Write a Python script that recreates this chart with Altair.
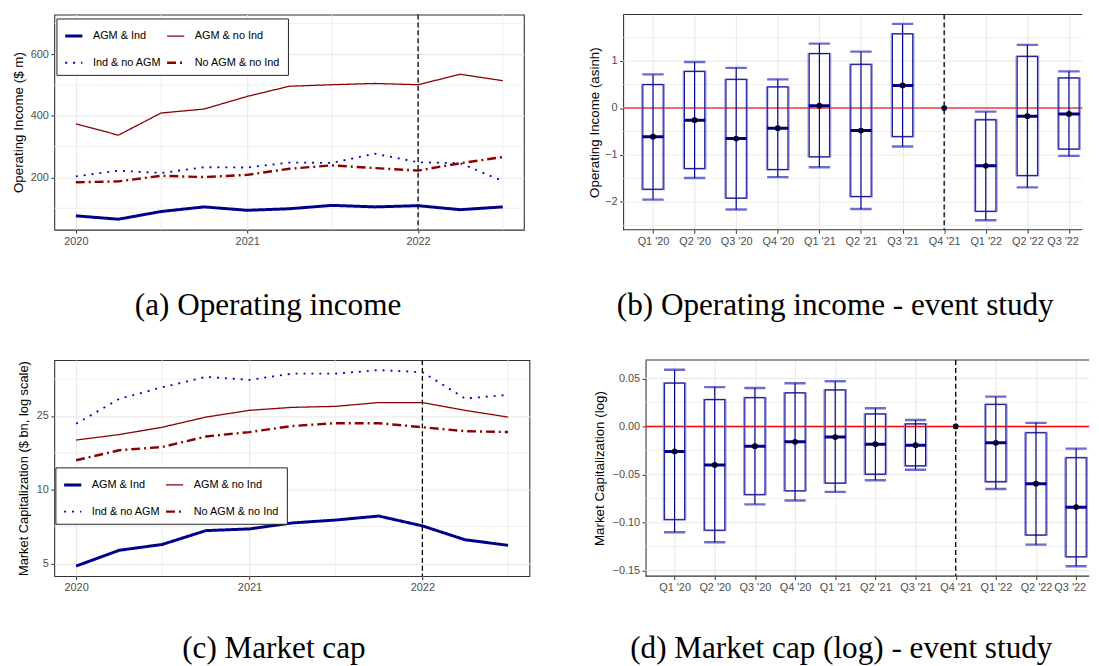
import altair as alt
import pandas as pd

# ---------------- data ----------------
DATES = ["2020-01-01", "2020-04-01", "2020-07-01", "2020-10-01",
         "2021-01-01", "2021-04-01", "2021-07-01", "2021-10-01",
         "2022-01-01", "2022-04-01", "2022-07-01"]
QUARTERS = ["Q1 '20", "Q2 '20", "Q3 '20", "Q4 '20", "Q1 '21", "Q2 '21",
            "Q3 '21", "Q4 '21", "Q1 '22", "Q2 '22", "Q3 '22"]
SERIES = ["AGM & Ind", "AGM & no Ind", "Ind & no AGM", "No AGM & no Ind"]

# (a) operating income, $ m
OI_AGM_IND = [75, 64, 89, 104, 93, 98, 109, 104, 108, 95, 104]
OI_AGM_NOIND = [374, 337, 409, 422, 463, 496, 501, 505, 501, 535, 514]
OI_IND_NOAGM = [203, 222, 214, 233, 232, 248, 247, 277, 249, 246, 188]
OI_NONE = [184, 187, 205, 201, 208, 228, 239, 230, 222, 246, 266]

# (c) market cap, $ bn (log axis units)
MC_AGM_IND = [4.88, 5.66, 5.98, 6.81, 6.92, 7.32, 7.52, 7.81, 7.12, 6.25, 5.93]
MC_AGM_NOIND = [15.96, 16.8, 18.0, 19.8, 21.1, 21.7, 21.9, 22.7, 22.7, 21.1, 19.8]
MC_IND_NOAGM = [18.6, 23.5, 26.2, 28.9, 28.1, 29.8, 29.8, 30.8, 30.2, 23.6, 24.4]
MC_NONE = [13.2, 14.5, 14.95, 16.5, 17.2, 18.2, 18.7, 18.7, 18.0, 17.35, 17.2]

# (b) event study, operating income (asinh)
B_EST = [-0.61, -0.26, -0.65, -0.43, 0.05, -0.48, 0.48, 0.0, -1.23, -0.175, -0.126]
B_LO90 = [-1.73, -1.29, -1.92, -1.31, -1.04, -1.885, -0.61, None, -2.20, -1.44, -0.876]
B_HI90 = [0.50, 0.78, 0.61, 0.45, 1.16, 0.93, 1.58, None, -0.25, 1.10, 0.64]
B_LO95 = [-1.95, -1.49, -2.16, -1.47, -1.26, -2.15, -0.82, None, -2.39, -1.69, -1.02]
B_HI95 = [0.715, 0.98, 0.855, 0.61, 1.37, 1.20, 1.79, None, -0.077, 1.345, 0.78]

# (d) event study, market cap (log)
D_EST = [-0.026, -0.040, -0.0205, -0.016, -0.011, -0.0185, -0.0195, 0.0, -0.017, -0.0596, -0.084]
D_LO90 = [-0.097, -0.108, -0.071, -0.067, -0.059, -0.0497, -0.041, None, -0.0575, -0.113, -0.1356]
D_HI90 = [0.0452, 0.028, 0.030, 0.035, 0.038, 0.013, 0.0027, None, 0.023, -0.0065, -0.0325]
D_LO95 = [-0.110, -0.1205, -0.081, -0.077, -0.068, -0.056, -0.045, None, -0.065, -0.123, -0.1455]
D_HI95 = [0.059, 0.041, 0.040, 0.045, 0.047, 0.019, 0.0068, None, 0.031, 0.0038, -0.023]

# axes
YEAR_TICKS = ["2020-01-01", "2021-01-01", "2022-01-01"]
YEAR_MINOR = ["2020-07-01", "2021-07-01", "2022-07-01"]
X_LIMITS = ["2019-11-16", "2022-08-15"]
EVENT_DATE = ["2022-01-01"]
EVENT_Q = "Q4 '21"
ZERO = [0.0]
Q_EXPAND = 0.6  # discrete-axis expansion, in category steps

OI_TICKS = [200, 400, 600]
OI_MINOR = [100, 300, 500, 700]
OI_LIMITS = [30, 729]
MC_TICKS = [5, 10, 20]
MC_TICK_LABELS = ["5", "10", "25"]
MC_MINOR = [7.07, 14.14, 28.28]
MC_LIMITS = [4.44, 33.85]
BO_TICKS = [-2, -1, 0, 1]
BO_MINOR = [-2.5, -1.5, -0.5, 0.5, 1.5]
BO_LIMITS = [-2.59, 1.99]
DM_TICKS = [-0.15, -0.10, -0.05, 0.0, 0.05]
DM_MINOR = [-0.125, -0.075, -0.025, 0.025]
DM_LIMITS = [-0.1557, 0.0691]

# ---------------- style ----------------
SANS = "Liberation Sans"
SERIF = "Liberation Serif"
GRID = "#EBEBEB"
BORDER = "#333333"
NAVY = "#00008B"
HALO = "#6C6CD0"
# scale domain ordered by line width (thin -> thick); legend keeps SERIES order
STYLE_ORDER = ["AGM & no Ind", "Ind & no AGM", "No AGM & no Ind", "AGM & Ind"]
STYLE_COLORS = ["#8B0000", "#0000CD", "#8B0000", "#00008B"]
STYLE_DASHES = [[1, 0], [2, 6], [9, 4, 2, 4], [1, 0]]
WIDTH_RANGE = [1.3, 3.0]
CAPTION_OFFSET_TOP = 44.3
CAPTION_OFFSET_BOTTOM = 41.0


def dt(s):
    y, m, d = (int(p) for p in s.split("-"))
    return alt.DateTime(year=y, month=m, date=d, utc=True)


def caption(text, offset):
    return alt.TitleParams(text=text, orient="bottom", anchor="middle", frame="bounds",
                           font=SERIF, fontSize=31.5, fontWeight="normal", color="black",
                           offset=offset)


def line_panel(series_values, y_scale, y_axis, minor_y, leg_x, leg_y, cap, cap_offset,
               width, height):
    rows = []
    for name, vals in zip(SERIES, series_values):
        for d, v in zip(DATES, vals):
            rows.append({"date": d, "series": name, "value": v})
    df = pd.DataFrame(rows)

    def x_enc(f):
        return alt.X(f"{f}:T",
                     scale=alt.Scale(type="utc", domain=[dt(X_LIMITS[0]), dt(X_LIMITS[1])]),
                     axis=alt.Axis(values=[dt(d) for d in YEAR_TICKS], format="%Y",
                                   formatType="utc", title=None, labelFlush=False, grid=True))

    def y_enc(f):
        return alt.Y(f"{f}:Q", scale=y_scale, axis=y_axis)

    leg = alt.Legend(orient="none", legendX=leg_x, legendY=leg_y, columns=2,
                     direction="horizontal", values=SERIES, title=None,
                     symbolType="stroke", symbolSize=300, labelFont=SANS, labelFontSize=11,
                     labelColor="black", labelOffset=8.8, padding=7, rowPadding=10.7,
                     columnPadding=0, strokeColor="#222222", fillColor="white")

    minor_x = alt.Chart(pd.DataFrame({"d": YEAR_MINOR})).mark_rule(
        color=GRID, strokeWidth=0.8).encode(x=x_enc("d"))
    minor_yl = alt.Chart(pd.DataFrame({"m": minor_y})).mark_rule(
        color=GRID, strokeWidth=0.8).encode(y=y_enc("m"))
    lines = alt.Chart(df).mark_line().encode(
        x=x_enc("date"),
        y=y_enc("value"),
        color=alt.Color("series:N", scale=alt.Scale(domain=STYLE_ORDER, range=STYLE_COLORS), legend=leg),
        strokeDash=alt.StrokeDash("series:N", scale=alt.Scale(domain=STYLE_ORDER, range=STYLE_DASHES),
                                  legend=leg),
        strokeWidth=alt.StrokeWidth("series:N", scale=alt.Scale(type="point", domain=STYLE_ORDER,
                                                                 range=WIDTH_RANGE, padding=0),
                                    legend=leg),
    )
    vline = alt.Chart(pd.DataFrame({"e": EVENT_DATE})).mark_rule(
        color="black", strokeDash=[5, 3], strokeWidth=1.3).encode(x=x_enc("e"))
    return alt.layer(minor_x, minor_yl, lines, vline).properties(
        width=width, height=height, title=caption(cap, cap_offset))


def event_panel(est, lo90, hi90, lo95, hi95, y_title, limits, ticks, minor, fmt,
                extent, tpad, zero_color, zero_width, box, cap, cap_offset,
                width, full_width, height):
    idx = list(range(len(QUARTERS)))
    df = pd.DataFrame({"i": idx, "q": QUARTERS, "est": est, "lo90": lo90, "hi90": hi90,
                       "lo95": lo95, "hi95": hi95})
    ci = df.dropna()
    # the panel is cut at the page edge: visible width < full panel width
    step = full_width / (len(QUARTERS) - 1 + 2 * Q_EXPAND)
    x_dom = [-Q_EXPAND, -Q_EXPAND + width / step]
    label_expr = "[" + ",".join(f'"{q}"' for q in QUARTERS) + "][datum.value]"
    x_axis = alt.Axis(values=idx, labelExpr=label_expr, title=None, labelAngle=0, grid=True,
                      labelOverlap=False, labelFlush=False, domain=False,
                      labelOffset={"condition": {"test": f"datum.value === {idx[-1]}",
                                                 "value": -6.5}, "value": 0})

    def x_enc(f):
        return alt.X(f"{f}:Q", scale=alt.Scale(domain=x_dom, nice=False, zero=False), axis=x_axis)

    y_scale = alt.Scale(domain=limits, nice=False, zero=False)
    y_axis = alt.Axis(values=ticks, format=fmt, title=y_title, grid=False,
                      domain=True, domainColor=BORDER, domainWidth=1.1,
                      minExtent=extent, maxExtent=extent, titlePadding=tpad)

    def y_enc(f):
        return alt.Y(f"{f}:Q", scale=y_scale, axis=y_axis)

    minor_l = alt.Chart(pd.DataFrame({"m": minor})).mark_rule(
        color=GRID, strokeWidth=0.8).encode(y=y_enc("m"))
    major_l = alt.Chart(pd.DataFrame({"t": ticks})).mark_rule(
        color=GRID, strokeWidth=1.2).encode(y=y_enc("t"))
    top = alt.Chart(pd.DataFrame({"top": [limits[1]]})).mark_rule(
        color=BORDER, strokeWidth=1.1).encode(y=y_enc("top"))
    bottom = alt.Chart(pd.DataFrame({"bottom": [limits[0]]})).mark_rule(
        color=BORDER, strokeWidth=1.1).encode(y=y_enc("bottom"))
    zero = alt.Chart(pd.DataFrame({"zero": ZERO})).mark_rule(
        color=zero_color, strokeWidth=zero_width).encode(y=y_enc("zero"))
    vline = alt.Chart(pd.DataFrame({"ev": [QUARTERS.index(EVENT_Q)]})).mark_rule(
        color="black", strokeDash=[5, 3], strokeWidth=1.3).encode(x=x_enc("ev"))
    base = alt.Chart(ci)
    halo = base.mark_bar(size=box + 0.6, fillOpacity=0, stroke=HALO, strokeWidth=1.8,
                         strokeOpacity=0.75, clip=True, orient="vertical").encode(
        x=x_enc("i"), y=y_enc("lo90"), y2="hi90")
    inner = base.mark_bar(size=box - 1.2, fillOpacity=0, stroke=NAVY, strokeWidth=0.9,
                          clip=True, orient="vertical").encode(
        x=x_enc("i"), y=y_enc("lo90"), y2="hi90")
    cap_lo = base.mark_tick(orient="horizontal", size=box, thickness=2.4, color=HALO,
                            opacity=1, clip=True).encode(x=x_enc("i"), y=y_enc("lo95"))
    cap_hi = base.mark_tick(orient="horizontal", size=box, thickness=2.4, color=HALO,
                            opacity=1, clip=True).encode(x=x_enc("i"), y=y_enc("hi95"))
    whisk = base.mark_rule(color=NAVY, strokeWidth=1.2, clip=True).encode(
        x=x_enc("i"), y=y_enc("lo95"), y2="hi95")
    med = base.mark_tick(orient="horizontal", size=box, thickness=3, color=NAVY,
                         opacity=1, clip=True).encode(x=x_enc("i"), y=y_enc("est"))
    pts = alt.Chart(df).mark_circle(size=34, color="#000022", opacity=1, clip=True).encode(
        x=x_enc("i"), y=y_enc("est"))
    return alt.layer(minor_l, major_l, top, bottom, zero, vline, halo, inner, cap_lo, cap_hi,
                     whisk, med, pts).properties(
        width=width, height=height, title=caption(cap, cap_offset),
        view=alt.ViewBackground(stroke="transparent"))


mc_label_expr = " : ".join(
    [f"datum.value == {v} ? '{l}'" for v, l in zip(MC_TICKS[:-1], MC_TICK_LABELS[:-1])]
    + [f"'{MC_TICK_LABELS[-1]}'"])

panel_a = line_panel(
    [OI_AGM_IND, OI_AGM_NOIND, OI_IND_NOAGM, OI_NONE],
    alt.Scale(domain=OI_LIMITS, nice=False, zero=False),
    alt.Axis(values=OI_TICKS, title="Operating Income ($ m)", grid=True,
             minExtent=24, maxExtent=24, titlePadding=5),
    OI_MINOR, 2.2, 4, "(a) Operating income", CAPTION_OFFSET_TOP, 474.7, 217.5)

panel_c = line_panel(
    [MC_AGM_IND, MC_AGM_NOIND, MC_IND_NOAGM, MC_NONE],
    alt.Scale(type="log", domain=MC_LIMITS, nice=False),
    alt.Axis(values=MC_TICKS, labelExpr=mc_label_expr,
             title="Market Capitalization ($ bn, log scale)", grid=True,
             titleFontSize=13, minExtent=18.2, maxExtent=18.2, titlePadding=5.5),
    MC_MINOR, 1.1, 108.5, "(c) Market cap", CAPTION_OFFSET_BOTTOM, 480.3, 218.4)

panel_b = event_panel(B_EST, B_LO90, B_HI90, B_LO95, B_HI95, "Operating Income (asinh)",
                      BO_LIMITS, BO_TICKS, BO_MINOR, "d", 18.5, 3.7, "#F23B3B", 1.6, 21.6,
                      "(b) Operating income - event study", CAPTION_OFFSET_TOP,
                      464.3, 481.3, 217.5)
panel_d = event_panel(D_EST, D_LO90, D_HI90, D_LO95, D_HI95, "Market Capitalization (log)",
                      DM_LIMITS, DM_TICKS, DM_MINOR, ".2f", 34, 5.5, "#FF0000", 1.4, 21.4,
                      "(d) Market cap (log) - event study", CAPTION_OFFSET_BOTTOM,
                      448.5, 465.0, 218.4)

RES = dict(x="independent", y="independent", color="independent",
           strokeDash="independent", strokeWidth="independent")
LRES = dict(color="independent", strokeDash="independent", strokeWidth="independent")

row1 = alt.hconcat(panel_a, panel_b, spacing=62).resolve_scale(**RES).resolve_legend(**LRES)
row2 = alt.hconcat(panel_c, panel_d, spacing=60.7).resolve_scale(**RES).resolve_legend(**LRES)

chart = alt.vconcat(row1, row2, spacing=36.3).resolve_scale(**RES).resolve_legend(**LRES).properties(
    padding={"left": 2.8, "top": 1, "right": 0, "bottom": 0},
    background="white",
).configure_view(
    stroke=BORDER, strokeWidth=1.1
).configure_axis(
    domain=False, gridColor=GRID, gridWidth=1.2, tickColor=BORDER, tickSize=3.5,
    tickWidth=1, labelColor="#4D4D4D", labelFont=SANS, labelFontSize=11, labelPadding=2.5,
    titleFont=SANS, titleFontSize=13.5, titleFontWeight="normal", titleColor="black"
)

chart.save("out.html", embed_options={"renderer": "svg", "actions": False})
